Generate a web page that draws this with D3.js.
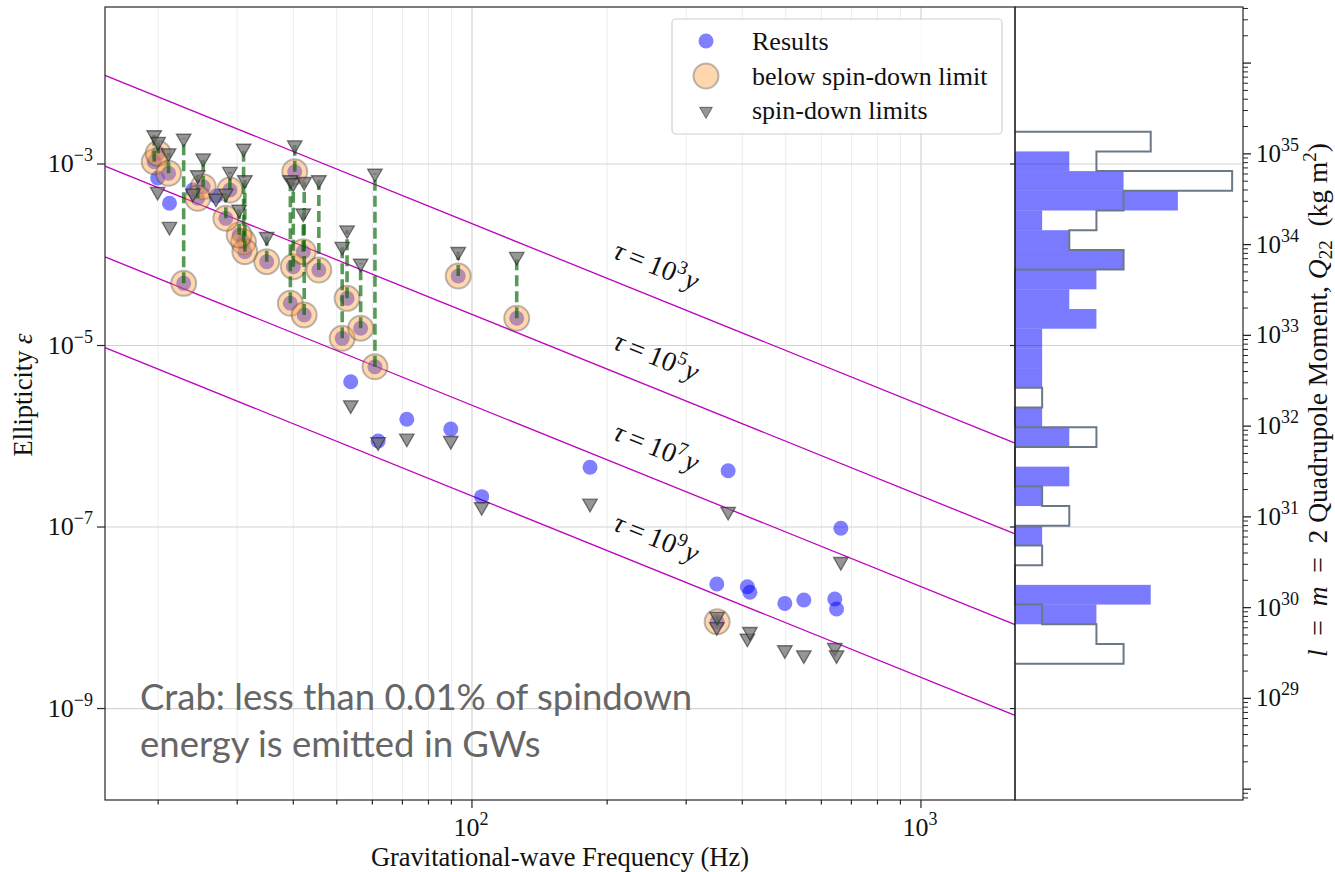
<!DOCTYPE html>
<html>
<head>
<meta charset="utf-8">
<script src="https://cdn.jsdelivr.net/npm/d3@7"></script>
<style>
  body { margin: 0; background: #fff; }
  svg { display: block; }
  text { font-family: "Liberation Serif", "Times New Roman", serif; fill: #111; }
</style>
</head>
<body>
<svg id="chart" width="1335" height="872"></svg>
<script>
// Pulsar GW frequencies (Hz), ellipticity upper limits and spin-down limits
const gwFreq = [19.6, 20.0, 21.1, 22.8, 25.2, 24.5, 28.9, 31.0, 31.2, 30.3,
    34.9, 28.3, 21.2, 19.95, 23.9, 26.9, 40.3, 39.4, 40.0, 42.3,
    42.1, 45.6, 52.7, 51.4, 56.5, 60.8, 93.2, 125.8, 53.7, 61.8,
    71.6, 89.7, 105.1, 183.2, 372, 663, 351, 351.6, 410.5, 415.9,
    497.5, 548.4, 642.7, 648.6];
const resultEps = [1.06e-3, 1.31e-3, 7.9e-4, 4.84e-5, 5.62e-4, 4.19e-4, 5.17e-4, 1.39e-4, 1.08e-4, 1.65e-4,
    8.38e-5, 2.52e-4, 3.69e-4, 7.01e-4, 5.17e-4, 4.44e-4, 8.23e-4, 2.92e-5, 7.38e-5, 2.17e-5,
    1.08e-4, 6.79e-5, 3.31e-5, 1.20e-5, 1.55e-5, 5.83e-6, 5.83e-5, 2.0e-5, 3.99e-6, 8.87e-7,
    1.54e-6, 1.20e-6, 2.16e-7, 4.55e-7, 4.17e-7, 9.68e-8, 2.36e-8, 9.03e-9, 2.20e-8, 1.91e-8,
    1.44e-8, 1.57e-8, 1.61e-8, 1.25e-8];
const spindownEps = [2.09e-3, 1.76e-3, 1.32e-3, 1.92e-3, 1.16e-3, 7.57e-4, 8.23e-4, 1.49e-3, 6.67e-4, 3.17e-4,
    1.58e-4, 4.76e-4, 2.04e-4, 4.96e-4, 4.76e-4, 4.19e-4, 1.62e-3, 6.67e-4, 6.18e-4, 6.38e-4,
    2.87e-4, 6.67e-4, 1.87e-4, 1.23e-4, 8.05e-5, 7.9e-4, 1.08e-4, 9.53e-5, 2.21e-6, 8.65e-7,
    9.48e-7, 8.93e-7, 1.67e-7, 1.82e-7, 1.48e-7, 4.15e-8, 7.96e-9, 1.03e-8, 5.94e-9, 7.02e-9,
    4.42e-9, 3.89e-9, 4.68e-9, 3.89e-9];

// side histogram, top bin first; bins of equal width in log10(epsilon)
const histTopEdge = -2.644;
const histBinWidth = 0.2171;
const histResults  = [0, 2, 4, 6, 1, 2, 4, 3, 2, 3, 1, 1, 1, 0, 1, 2, 0, 2, 1, 0, 1, 0, 0, 5, 3, 0, 0];
const histSpindown = [5, 3, 8, 4, 3, 2, 4, 0, 0, 0, 0, 0, 0, 1, 0, 3, 0, 0, 1, 2, 0, 1, 0, 0, 1, 3, 4];

// spin-down age lines: exponent of tau, epsilon at the two frequency ends
const tauExp = ["3", "5", "7", "9"];
const tauLineFreq = [15.2, 1620];
const tauLineEps = [[9.5e-3, 8.4e-7], [9.5e-4, 8.4e-8], [9.5e-5, 8.4e-9], [9.5e-6, 8.4e-10]];

const epsTicks = [1e-3, 1e-5, 1e-7, 1e-9];
const epsTickExp = ["\u22123", "\u22125", "\u22127", "\u22129"];
const freqTicks = [100, 1000];
const freqTickExp = ["2", "3"];
const qTickExp = [29, 30, 31, 32, 33, 34, 35];
const qPerEps = 7.73e37;

const svg = d3.select("#chart");
const L = 105, R = 1015, T = 7, B = 800, HR = 1243;

const x = d3.scaleLog().domain([15.23, 1619.6]).range([L, R]);
const y = d3.scaleLog().domain([9.82e-11, 0.0537]).range([B, T]);
const q = d3.scaleLog().domain(y.domain().map(e => e * qPerEps)).range([B, T]);
const hx = d3.scaleLinear().domain([0, 8.4]).range([R, HR]);

svg.append("rect").attr("width", 1335).attr("height", 872).attr("fill", "#fff");

// grid
const grid = svg.append("g");
const minorF = x.ticks().filter(f => freqTicks.indexOf(f) < 0 && f > 16 && f < 1600);
grid.selectAll(".gm").data(minorF).enter().append("line")
    .attr("x1", d => x(d)).attr("x2", d => x(d)).attr("y1", T).attr("y2", B)
    .attr("stroke", "#ececec").attr("stroke-width", 1);
grid.selectAll(".gM").data(freqTicks).enter().append("line")
    .attr("x1", d => x(d)).attr("x2", d => x(d)).attr("y1", T).attr("y2", B)
    .attr("stroke", "#d4d4d4").attr("stroke-width", 1.2);
grid.selectAll(".gy").data(epsTicks).enter().append("line")
    .attr("x1", L).attr("x2", HR).attr("y1", d => y(d)).attr("y2", d => y(d))
    .attr("stroke", "#d4d4d4").attr("stroke-width", 1.2);

// histogram
const hist = svg.append("g");
const binTop = i => y(Math.pow(10, histTopEdge - i * histBinWidth));
hist.selectAll("rect").data(histResults).enter().append("rect")
    .attr("x", hx(0)).attr("y", (d, i) => binTop(i))
    .attr("width", d => hx(d) - hx(0)).attr("height", (d, i) => binTop(i + 1) - binTop(i))
    .attr("fill", "blue").attr("fill-opacity", 0.52);
let pts = [[hx(0), binTop(0)]];
histSpindown.forEach((c, i) => { pts.push([hx(c), binTop(i)]); pts.push([hx(c), binTop(i + 1)]); });
pts.push([hx(0), binTop(histSpindown.length)]);
hist.append("path").attr("d", d3.line()(pts)).attr("fill", "none")
    .attr("stroke", "#6a7888").attr("stroke-width", 2);

// tau lines
const tl = svg.append("g");
tauLineEps.forEach((eps, i) => {
    const x1 = x(tauLineFreq[0]), y1 = y(eps[0]), x2 = x(tauLineFreq[1]), y2 = y(eps[1]);
    const at = px => y1 + (px - x1) * (y2 - y1) / (x2 - x1);
    tl.append("line").attr("x1", Math.max(x1, L)).attr("y1", at(Math.max(x1, L)))
        .attr("x2", Math.min(x2, R)).attr("y2", at(Math.min(x2, R)))
        .attr("stroke", "#bf00bf").attr("stroke-width", 1.3);
    const ang = Math.atan2(y2 - y1, x2 - x1) * 180 / Math.PI;
    const lx = 604;
    const t = tl.append("text").attr("transform", `translate(${lx},${at(lx)}) rotate(${ang})`)
        .attr("x", 0).attr("y", -21).style("font-size", "28px");
    t.append("tspan").style("font-style", "italic").text("\u03c4");
    t.append("tspan").text("\u2009=\u200910");
    t.append("tspan").attr("dy", -11).style("font-size", "19px").text(tauExp[i]);
    t.append("tspan").attr("dy", 11).attr("dx", 2).style("font-style", "italic").text("y");
});

// scatter
const idx = d3.range(gwFreq.length);
const below = idx.filter(i => resultEps[i] < spindownEps[i]);
const sc = svg.append("g");
sc.selectAll(".res").data(idx).enter().append("circle")
    .attr("cx", i => x(gwFreq[i])).attr("cy", i => y(resultEps[i])).attr("r", 7.5)
    .attr("fill", "blue").attr("fill-opacity", 0.5);
sc.selectAll(".bel").data(below).enter().append("circle")
    .attr("cx", i => x(gwFreq[i])).attr("cy", i => y(resultEps[i])).attr("r", 12.5)
    .attr("fill", "#ff9f40").attr("fill-opacity", 0.42)
    .attr("stroke", "#404040").attr("stroke-opacity", 0.35).attr("stroke-width", 2);
sc.selectAll(".lnk").data(below).enter().append("line")
    .attr("x1", i => x(gwFreq[i])).attr("x2", i => x(gwFreq[i]))
    .attr("y1", i => y(resultEps[i])).attr("y2", i => y(spindownEps[i]))
    .attr("stroke", "#006400").attr("stroke-opacity", 0.65).attr("stroke-width", 3.6)
    .attr("stroke-dasharray", "11,5");
const tri = d3.symbol().type(d3.symbolTriangle).size(92);
sc.selectAll(".sd").data(idx).enter().append("path")
    .attr("d", tri)
    .attr("transform", i => `translate(${x(gwFreq[i])},${y(spindownEps[i])}) rotate(180)`)
    .attr("fill", "#6e6e6e").attr("fill-opacity", 0.72)
    .attr("stroke", "#1a1a1a").attr("stroke-opacity", 0.55).attr("stroke-width", 1.3);

// spines
const ax = svg.append("g").attr("stroke", "#262626").attr("stroke-width", 1.2).attr("fill", "none");
ax.append("rect").attr("x", L).attr("y", T).attr("width", R - L).attr("height", B - T);
ax.append("rect").attr("x", R).attr("y", T).attr("width", HR - R).attr("height", B - T);

// x ticks
ax.selectAll(".xt").data(x.ticks().filter(f => f > 15.3 && f < 1619)).enter().append("line")
    .attr("x1", d => x(d)).attr("x2", d => x(d)).attr("y1", B)
    .attr("y2", d => B + (freqTicks.indexOf(d) >= 0 ? 8 : 4.5));
freqTicks.forEach((f, i) => {
    const t = svg.append("text").attr("x", x(f) - 1).attr("y", 836).attr("text-anchor", "middle")
        .style("font-size", "26px");
    t.append("tspan").text("10");
    t.append("tspan").attr("dy", -11).style("font-size", "18px").text(freqTickExp[i]);
});

// y ticks
epsTicks.forEach((e, i) => {
    ax.append("line").attr("x1", L - 8).attr("x2", L).attr("y1", y(e)).attr("y2", y(e));
    ax.append("line").attr("x1", R - 5).attr("x2", R).attr("y1", y(e)).attr("y2", y(e));
    const t = svg.append("text").attr("x", 93).attr("y", y(e) + 8).attr("text-anchor", "end")
        .style("font-size", "26px");
    t.append("tspan").text("10");
    t.append("tspan").attr("dy", -11).style("font-size", "18px").text(epsTickExp[i]);
});

// right Q axis: decade ticks and 2..9 minor ticks
const qd = q.domain();
const qMinor = [];
d3.range(Math.floor(Math.log10(qd[0])), Math.ceil(Math.log10(qd[1]))).forEach(p => {
    d3.range(1, 10).forEach(m => { const v = m * Math.pow(10, p); if (v > qd[0] && v < qd[1]) qMinor.push([v, m === 1]); });
});
ax.selectAll(".qt").data(qMinor).enter().append("line")
    .attr("x1", HR).attr("y1", d => q(d[0])).attr("y2", d => q(d[0]))
    .attr("x2", d => HR + (d[1] ? 8 : 5)).attr("stroke-width", d => d[1] ? 1.3 : 1);
qTickExp.forEach(p => {
    const t = svg.append("text").attr("x", 1256).attr("y", q(Math.pow(10, p)) + 8)
        .style("font-size", "25px");
    t.append("tspan").text("10");
    t.append("tspan").attr("dy", -11).style("font-size", "18px").text(p);
});

// axis labels
svg.append("text").attr("x", (L + R) / 2).attr("y", 866).attr("text-anchor", "middle")
    .style("font-size", "26.5px").text("Gravitational-wave Frequency (Hz)");
const yl = svg.append("text").attr("transform", "translate(32,395) rotate(-90)")
    .attr("text-anchor", "middle").style("font-size", "26.5px");
yl.append("tspan").text("Ellipticity ");
yl.append("tspan").style("font-style", "italic").text("\u03b5");
const ql = svg.append("text").attr("transform", "translate(1327,400) rotate(-90)")
    .attr("text-anchor", "middle").style("font-size", "27.5px");
ql.append("tspan").style("font-style", "italic").text("l");
ql.append("tspan").text("\u2002=\u2002");
ql.append("tspan").style("font-style", "italic").text("m");
ql.append("tspan").text("\u2002=\u20022 Quadrupole Moment, ");
ql.append("tspan").style("font-style", "italic").text("Q");
ql.append("tspan").attr("dy", 5).style("font-size", "19px").text("22");
ql.append("tspan").attr("dy", -5).text("\u2002(kg m");
ql.append("tspan").attr("dy", -11).style("font-size", "19px").text("2");
ql.append("tspan").attr("dy", 11).text(")");

// legend
const lg = svg.append("g");
lg.append("rect").attr("x", 672).attr("y", 19).attr("width", 330).attr("height", 115).attr("rx", 4)
    .attr("fill", "#fff").attr("fill-opacity", 0.85).attr("stroke", "#d0d0d0").attr("stroke-width", 1.2);
lg.append("circle").attr("cx", 706).attr("cy", 41).attr("r", 7.5).attr("fill", "blue").attr("fill-opacity", 0.5);
lg.append("circle").attr("cx", 706).attr("cy", 76).attr("r", 12.5).attr("fill", "#ff9f40").attr("fill-opacity", 0.42)
    .attr("stroke", "#404040").attr("stroke-opacity", 0.35).attr("stroke-width", 2);
lg.append("path").attr("d", d3.symbol().type(d3.symbolTriangle).size(70))
    .attr("transform", "translate(706,111) rotate(180)")
    .attr("fill", "#6e6e6e").attr("fill-opacity", 0.72).attr("stroke", "#1a1a1a").attr("stroke-opacity", 0.55);
["Results", "below spin-down limit", "spin-down limits"].forEach((s, i) => {
    lg.append("text").attr("x", 752).attr("y", 50 + i * 34.5).style("font-size", "26px").text(s);
});

// annotation
svg.append("text").attr("x", 140).attr("y", 710).style("font-family", "Lato, sans-serif")
    .style("font-size", "36.5px").style("fill", "#666").text("Crab: less than 0.01% of spindown");
svg.append("text").attr("x", 140).attr("y", 757).style("font-family", "Lato, sans-serif")
    .style("font-size", "36.5px").style("fill", "#666").text("energy is emitted in GWs");
</script>
</body>
</html>
